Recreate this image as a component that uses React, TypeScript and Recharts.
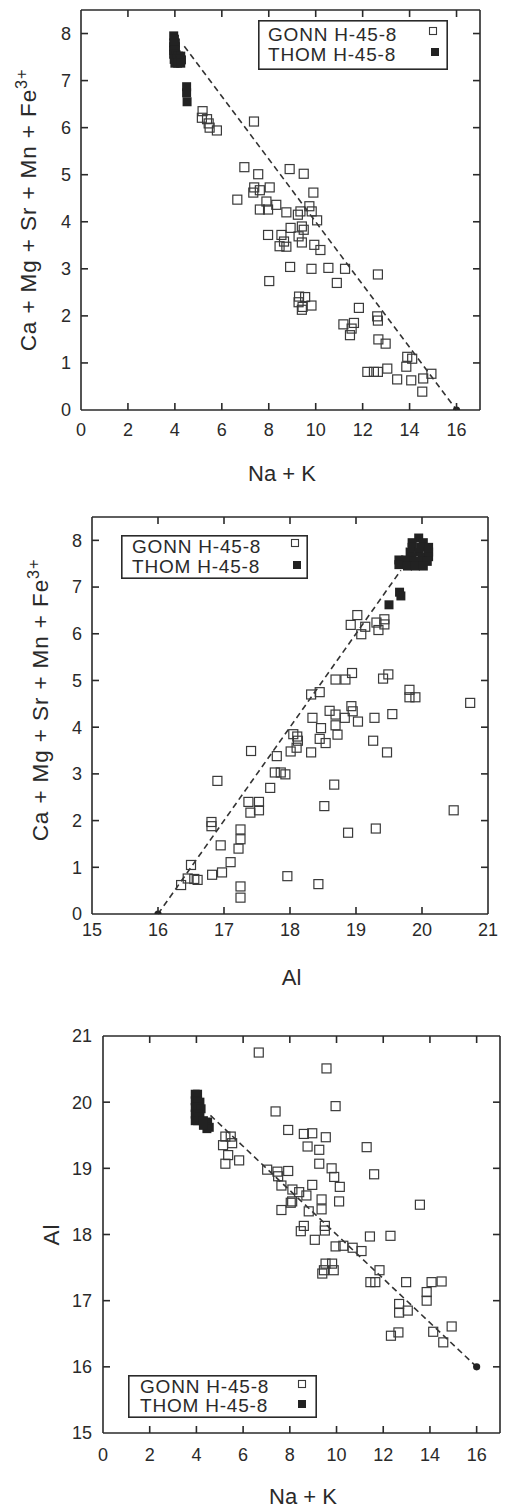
import React from "react";
import { ScatterChart, Scatter, XAxis, YAxis, ReferenceLine, Legend } from "recharts";

const FONT = "'Liberation Sans', Arimo, Arial, sans-serif";
const INK = "#2a2a2a";

const seriesNames = ["GONN H-45-8", "THOM H-45-8"];

// tick values
const naKTicks = [0, 2, 4, 6, 8, 10, 12, 14, 16];
const naKInnerTicks = [2, 4, 6, 8, 10, 12, 14, 16];
const caSumTicks = [0, 1, 2, 3, 4, 5, 6, 7, 8];
const caSumInnerTicks = [1, 2, 3, 4, 5, 6, 7, 8];
const alTicks = [15, 16, 17, 18, 19, 20, 21];
const alInnerTicks = [16, 17, 18, 19, 20];

// panel 1: Na+K vs Ca+Mg+Sr+Mn+Fe3+
const gonnNaKCa: [number, number][] = [
  [5.18, 6.35], [5.15, 6.21], [5.37, 6.18], [5.44, 6.09], [5.48, 6.0], [5.79, 5.94], [7.37, 6.13],
  [6.96, 5.16], [7.55, 5.01], [8.89, 5.12], [9.49, 5.02], [7.38, 4.73], [7.34, 4.62], [7.62, 4.67],
  [8.04, 4.73], [6.66, 4.47], [7.9, 4.43], [7.62, 4.26], [7.97, 4.26], [8.32, 4.36], [8.75, 4.2],
  [9.24, 4.15], [9.35, 4.22], [9.73, 4.33], [9.83, 4.22], [9.9, 4.62], [10.06, 4.03], [8.93, 3.87],
  [9.41, 3.9], [9.49, 3.83], [9.27, 3.69], [9.41, 3.56], [7.97, 3.72], [8.54, 3.72], [8.46, 3.48],
  [8.75, 3.47], [9.94, 3.51], [10.2, 3.4], [8.65, 3.58],
  [8.02, 2.74], [8.91, 3.04], [9.82, 3.0], [10.54, 3.02], [11.25, 3.0], [10.9, 2.7], [12.65, 2.88],
  [9.29, 2.41], [9.55, 2.4], [9.27, 2.29], [9.44, 2.19], [9.82, 2.22], [9.41, 2.13], [11.84, 2.17],
  [12.62, 1.99], [12.65, 1.9], [11.18, 1.82], [11.63, 1.85], [11.53, 1.73], [11.46, 1.59],
  [12.67, 1.5], [12.98, 1.41], [13.9, 1.13], [14.11, 1.09], [13.86, 0.92], [12.2, 0.81],
  [12.48, 0.81], [12.65, 0.81], [13.05, 0.88], [13.47, 0.65], [14.07, 0.63], [14.58, 0.67],
  [14.93, 0.77], [14.54, 0.39],
];
const thomNaKCa: [number, number][] = [
  [3.95, 7.95], [3.98, 7.88], [3.95, 7.8], [4.02, 7.8], [3.95, 7.72], [4.02, 7.72], [3.95, 7.64],
  [4.02, 7.64], [3.95, 7.56], [4.05, 7.55], [4.15, 7.52], [4.25, 7.52], [3.97, 7.45], [4.08, 7.45],
  [4.2, 7.44], [4.28, 7.44], [4.0, 7.37], [4.12, 7.37], [4.25, 7.37], [4.5, 6.87], [4.5, 6.74],
  [4.52, 6.55],
];
const endNaKCa: [number, number][] = [[16, 0]];
const tieNaKCa: [number, number][] = [[4.4, 7.73], [16, 0]];

// panel 2: Al vs Ca+Mg+Sr+Mn+Fe3+
const gonnAlCa: [number, number][] = [
  [16.35, 0.62], [16.45, 0.76], [16.55, 0.75], [16.6, 0.73], [16.5, 1.05], [16.82, 0.84],
  [16.97, 0.89], [17.1, 1.11], [17.25, 0.59], [17.25, 0.35], [17.96, 0.81], [18.43, 0.64],
  [16.81, 1.97], [16.81, 1.88], [16.95, 1.47], [17.25, 1.81], [17.25, 1.6], [17.22, 1.4],
  [16.9, 2.85], [17.41, 3.49], [17.37, 2.4], [17.53, 2.4], [17.4, 2.17], [17.53, 2.22],
  [17.7, 2.7], [17.77, 3.03], [17.86, 3.03], [17.93, 2.99], [17.8, 3.38], [18.01, 3.48],
  [18.05, 3.85], [18.11, 3.8], [18.12, 3.71], [18.1, 3.56], [18.32, 3.46], [18.34, 4.2],
  [18.32, 4.7], [18.45, 4.75], [18.47, 3.98], [18.45, 3.75], [18.54, 3.66], [18.6, 4.35],
  [18.69, 4.27], [18.69, 4.04], [18.72, 3.84], [18.83, 4.2], [18.93, 4.45], [18.95, 4.34],
  [19.03, 4.12], [18.69, 5.02], [18.84, 5.02], [18.94, 5.16], [19.28, 4.2], [19.26, 3.71],
  [19.47, 3.46], [19.55, 4.28], [19.41, 5.04], [19.49, 5.13], [18.67, 2.77], [18.52, 2.31],
  [18.88, 1.74], [19.3, 1.83], [19.81, 4.8], [19.81, 4.64], [19.9, 4.64], [20.73, 4.52],
  [20.48, 2.22], [19.02, 6.4], [18.92, 6.19], [19.08, 5.99], [19.14, 6.15], [19.31, 6.24],
  [19.34, 6.08], [19.43, 6.31], [19.43, 6.2],
];
const thomAlCa: [number, number][] = [
  [19.95, 8.05], [19.85, 7.95], [20.02, 7.95], [19.85, 7.85], [19.98, 7.85], [20.1, 7.85],
  [19.82, 7.75], [19.95, 7.75], [20.1, 7.75], [19.85, 7.65], [20.0, 7.65], [20.1, 7.65],
  [19.65, 7.58], [19.75, 7.58], [19.88, 7.55], [20.0, 7.55], [20.08, 7.55], [19.65, 7.48],
  [19.78, 7.45], [19.9, 7.45], [20.02, 7.45], [19.66, 6.89], [19.68, 6.81], [19.5, 6.62],
];
const endAlCa: [number, number][] = [[16, 0]];
const tieAlCa: [number, number][] = [[16, 0], [19.68, 7.36]];

// panel 3: Na+K vs Al
const gonnNaKAl: [number, number][] = [
  [6.67, 20.75], [9.57, 20.51], [9.96, 19.94], [7.39, 19.86], [7.93, 19.58], [8.6, 19.52],
  [8.96, 19.53], [9.54, 19.47], [8.76, 19.33], [9.26, 19.28], [11.29, 19.32], [5.24, 19.48],
  [5.47, 19.48], [5.14, 19.35], [5.53, 19.38], [5.36, 19.2], [5.24, 19.07], [5.83, 19.12],
  [7.03, 18.98], [7.47, 18.95], [7.5, 18.88], [7.93, 18.96], [9.26, 19.07], [9.79, 19.0],
  [9.9, 18.87], [10.14, 18.72], [11.61, 18.91], [7.64, 18.74], [8.11, 18.68], [8.4, 18.64],
  [8.71, 18.59], [8.96, 18.75], [9.36, 18.53], [9.36, 18.38], [10.11, 18.5], [7.64, 18.37],
  [8.04, 18.48], [8.1, 18.5], [8.81, 18.35], [13.57, 18.45], [8.6, 18.13], [8.47, 18.05],
  [9.5, 18.13], [9.5, 18.06], [9.07, 17.92], [11.43, 17.97], [12.31, 17.98], [9.96, 17.82],
  [10.29, 17.83], [10.69, 17.8], [11.07, 17.75], [9.39, 17.41], [9.46, 17.46], [9.88, 17.46],
  [9.81, 17.56], [9.53, 17.56], [11.84, 17.46], [11.45, 17.28], [11.66, 17.28], [12.98, 17.28],
  [14.07, 17.28], [14.5, 17.29], [13.86, 17.13], [13.86, 17.0], [12.68, 16.95], [12.68, 16.82],
  [13.05, 16.85], [12.33, 16.47], [12.65, 16.52], [14.14, 16.53], [14.57, 16.37], [14.93, 16.61],
];
const thomNaKAl: [number, number][] = [
  [3.95, 20.12], [4.05, 20.12], [3.95, 20.02], [4.05, 20.02], [4.15, 20.0], [3.95, 19.92],
  [4.05, 19.92], [4.2, 19.9], [3.95, 19.82], [4.05, 19.82], [3.95, 19.72], [4.05, 19.72],
  [4.15, 19.78], [4.3, 19.72], [4.48, 19.7], [4.55, 19.62], [4.45, 19.6], [4.3, 19.65],
];
const endNaKAl: [number, number][] = [[16, 16]];
const tieNaKAl: [number, number][] = [[4.6, 19.8], [16, 16]];

const toPts = (arr: [number, number][]) => arr.map(([x, y]) => ({ x, y }));

const OpenSquare = (p: any) =>
  p.cx == null ? null : (
    <rect x={p.cx - 4.5} y={p.cy - 4.5} width={9} height={9} fill="none" stroke="#3a3a3a" strokeWidth={1.2} />
  );
const FilledSquare = (p: any) =>
  p.cx == null ? null : <rect x={p.cx - 4.5} y={p.cy - 4.5} width={9} height={9} fill="#222" />;
const EndDot = (p: any) => (p.cx == null ? null : <circle cx={p.cx} cy={p.cy} r={3.6} fill="#222" />);

type LegendCfg = {
  left: number; top: number; w: number; h: number;
  textX: number; base1: number; base2: number;
  open: [number, number]; filled: [number, number];
};

const LegendBox = ({ cfg }: { cfg: LegendCfg }) => (
  <svg width={cfg.w} height={cfg.h} style={{ display: "block" }}>
    <rect x={0.8} y={0.8} width={cfg.w - 1.6} height={cfg.h - 1.6} fill="#fff" stroke={INK} strokeWidth={1.6} />
    <text x={cfg.textX} y={cfg.base1} fontSize={19} letterSpacing={0.8} fontFamily={FONT} fill={INK}>
      {seriesNames[0]}
    </text>
    <text x={cfg.textX} y={cfg.base2} fontSize={19} letterSpacing={0.8} fontFamily={FONT} fill={INK}>
      {seriesNames[1]}
    </text>
    <rect x={cfg.open[0] - 3.5} y={cfg.open[1] - 3.5} width={7} height={7} fill="none" stroke="#3a3a3a" strokeWidth={1.1} />
    <rect x={cfg.filled[0] - 4} y={cfg.filled[1] - 4} width={8} height={8} fill="#222" />
  </svg>
);

type PanelProps = {
  top: number; height: number;
  plot: { left: number; top: number; right: number; bottom: number };
  xDomain: [number, number]; yDomain: [number, number];
  xTicks: number[]; xInnerTicks: number[]; yTicks: number[]; yInnerTicks: number[];
  xTickGap: number; yTickGap: number;
  gonn: [number, number][]; thom: [number, number][];
  end: [number, number][]; tie: [number, number][];
  xLabel: string; yLabel: string; ySup?: string; yLabelX: number; yLabelY?: number;
  legend: LegendCfg;
};

const W = 507;
const TICK_LEN = 7;

const Panel = (pp: PanelProps) => {
  const { plot } = pp;
  const margin = { top: plot.top, right: W - plot.right, left: 0, bottom: 0 };
  const xAxisH = pp.height - plot.bottom;
  const cx = (plot.left + plot.right) / 2 + 1.5;
  const cy = pp.yLabelY ?? (plot.top + plot.bottom) / 2;
  const axisStyle = { stroke: INK, strokeWidth: 1.6 };
  const tickText = { fontSize: 18, fill: INK, fontFamily: FONT };

  // x tick: label below the frame, inward marks on bottom and top edges
  const xTick = (p: any) => {
    const v = p.payload?.value;
    const c = p.payload?.coordinate ?? p.x;
    const inner = pp.xInnerTicks.includes(v);
    return (
      <g>
        {inner && <line x1={c} x2={c} y1={plot.bottom} y2={plot.bottom - TICK_LEN} {...axisStyle} />}
        {inner && <line x1={c} x2={c} y1={plot.top} y2={plot.top + TICK_LEN} {...axisStyle} />}
        <text x={c} y={plot.bottom + pp.xTickGap} dy="0.71em" textAnchor="middle" {...tickText}>
          {v}
        </text>
      </g>
    );
  };
  // y tick: label left of the frame, inward marks on left and right edges
  const yTick = (p: any) => {
    const v = p.payload?.value;
    const c = p.payload?.coordinate ?? p.y;
    const inner = pp.yInnerTicks.includes(v);
    return (
      <g>
        {inner && <line y1={c} y2={c} x1={plot.left} x2={plot.left + TICK_LEN} {...axisStyle} />}
        {inner && <line y1={c} y2={c} x1={plot.right} x2={plot.right - TICK_LEN} {...axisStyle} />}
        <text x={plot.left - pp.yTickGap} y={c} dy="0.355em" textAnchor="end" {...tickText}>
          {v}
        </text>
      </g>
    );
  };

  const xLabel = () => (
    <text x={cx} y={plot.bottom + 71} textAnchor="middle" fontSize={22} fontFamily={FONT} fill={INK}>
      {pp.xLabel}
    </text>
  );
  const yLabel = () => (
    <text
      x={pp.yLabelX}
      y={cy}
      transform={`rotate(-90 ${pp.yLabelX} ${cy})`}
      textAnchor="middle"
      fontSize={22.5}
      letterSpacing={0.9}
      fontFamily={FONT}
      fill={INK}
    >
      {pp.yLabel}
      {pp.ySup && (
        <tspan dy="-0.55em" fontSize="0.72em">
          {pp.ySup}
        </tspan>
      )}
    </text>
  );

  return (
    <div style={{ position: "absolute", left: 0, top: pp.top, width: W, height: pp.height }}>
      <ScatterChart width={W} height={pp.height} margin={margin}>
        <XAxis
          type="number"
          dataKey="x"
          domain={pp.xDomain}
          ticks={pp.xTicks}
          interval={0}
          allowDataOverflow
          height={xAxisH}
          tickLine={false}
          axisLine={axisStyle}
          tick={xTick}
          label={{ content: xLabel }}
        />
        <XAxis
          xAxisId="top"
          orientation="top"
          mirror
          type="number"
          domain={pp.xDomain}
          ticks={pp.xInnerTicks}
          interval={0}
          allowDataOverflow
          height={2}
          tick={false}
          tickLine={false}
          axisLine={axisStyle}
        />
        <YAxis
          type="number"
          dataKey="y"
          domain={pp.yDomain}
          ticks={pp.yTicks}
          interval={0}
          allowDataOverflow
          width={plot.left}
          tickLine={false}
          axisLine={axisStyle}
          tick={yTick}
          label={{ content: yLabel }}
        />
        <YAxis
          yAxisId="right"
          orientation="right"
          mirror
          type="number"
          domain={pp.yDomain}
          ticks={pp.yInnerTicks}
          interval={0}
          allowDataOverflow
          width={2}
          tick={false}
          tickLine={false}
          axisLine={axisStyle}
        />
        <ReferenceLine
          segment={toPts(pp.tie)}
          stroke="#333"
          strokeWidth={1.6}
          strokeDasharray="6 4"
          ifOverflow="visible"
        />
        <Scatter name={seriesNames[0]} data={toPts(pp.gonn)} shape={OpenSquare} isAnimationActive={false} />
        <Scatter name={seriesNames[1]} data={toPts(pp.thom)} shape={FilledSquare} isAnimationActive={false} />
        <Scatter data={toPts(pp.end)} shape={EndDot} isAnimationActive={false} legendType="none" />
        <Legend
          layout="vertical"
          align="center"
          verticalAlign="middle"
          wrapperStyle={{ left: pp.legend.left, top: pp.legend.top, width: pp.legend.w, height: pp.legend.h }}
          content={() => <LegendBox cfg={pp.legend} />}
        />
      </ScatterChart>
    </div>
  );
};

export default function App() {
  return (
    <div style={{ position: "absolute", left: 0, top: 0, width: W, height: 1510, background: "#fff" }}>
      <Panel
        top={0}
        height={490}
        plot={{ left: 81, top: 10, right: 480, bottom: 410 }}
        xDomain={[0, 17]}
        yDomain={[0, 8.5]}
        xTicks={naKTicks}
        xInnerTicks={naKInnerTicks}
        yTicks={caSumTicks}
        yInnerTicks={caSumInnerTicks}
        xTickGap={13}
        yTickGap={10}
        gonn={gonnNaKCa}
        thom={thomNaKCa}
        end={endNaKCa}
        tie={tieNaKCa}
        xLabel="Na + K"
        yLabel="Ca + Mg + Sr + Mn + Fe"
        ySup="3+"
        yLabelX={36}
        legend={{ left: 258, top: 20, w: 190, h: 50, textX: 10, base1: 21, base2: 41, open: [175, 11], filled: [177, 32] }}
      />
      <Panel
        top={490}
        height={510}
        plot={{ left: 92, top: 27, right: 488, bottom: 424 }}
        xDomain={[15, 21]}
        yDomain={[0, 8.5]}
        xTicks={alTicks}
        xInnerTicks={alInnerTicks}
        yTicks={caSumTicks}
        yInnerTicks={caSumInnerTicks}
        xTickGap={9}
        yTickGap={10}
        gonn={gonnAlCa}
        thom={thomAlCa}
        end={endAlCa}
        tie={tieAlCa}
        xLabel="Al"
        yLabel="Ca + Mg + Sr + Mn + Fe"
        ySup="3+"
        yLabelX={48}
        yLabelY={210}
        legend={{ left: 121, top: 45, w: 187, h: 44, textX: 11, base1: 18, base2: 38, open: [174, 8], filled: [176, 30] }}
      />
      <Panel
        top={1000}
        height={510}
        plot={{ left: 103, top: 36, right: 500, bottom: 433 }}
        xDomain={[0, 17]}
        yDomain={[15, 21]}
        xTicks={naKTicks}
        xInnerTicks={naKInnerTicks}
        yTicks={alTicks}
        yInnerTicks={alInnerTicks}
        xTickGap={15}
        yTickGap={11}
        gonn={gonnNaKAl}
        thom={thomNaKAl}
        end={endNaKAl}
        tie={tieNaKAl}
        xLabel="Na + K"
        yLabel="Al"
        yLabelX={59}
        legend={{ left: 128, top: 375, w: 189, h: 43, textX: 12, base1: 18, base2: 37, open: [174, 9], filled: [174, 29] }}
      />
    </div>
  );
}
